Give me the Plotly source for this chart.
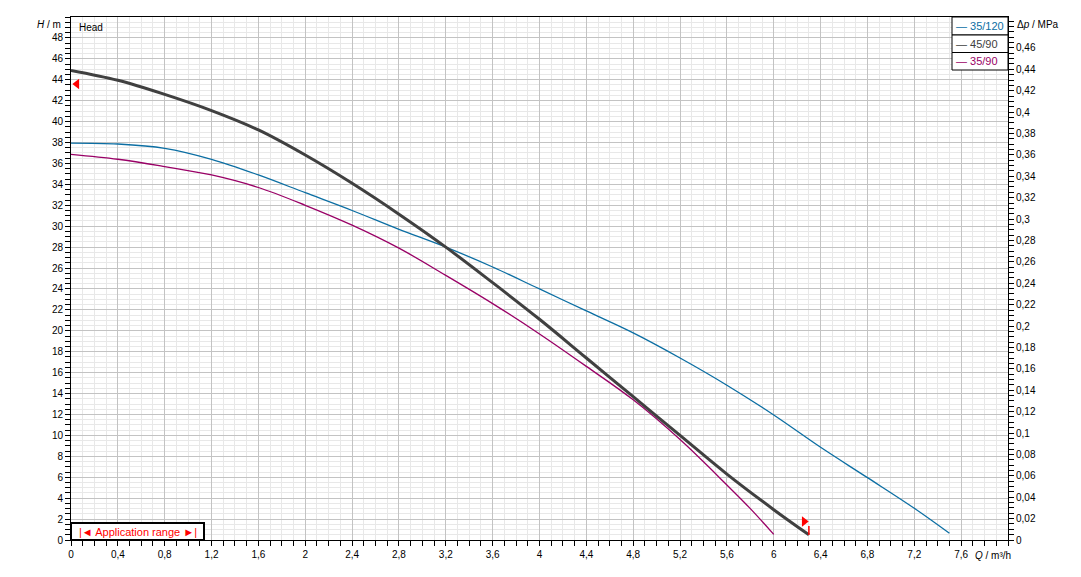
import plotly.graph_objects as go

# ---------------- data ----------------
q_45_90 = [0, 0.4, 0.8, 1.2, 1.6, 2.0, 2.4, 2.8, 3.2, 3.6, 4.0, 4.4, 4.8, 5.2, 5.6, 6.0, 6.3]
h_45_90 = [44.9, 43.95, 42.6, 41.05, 39.2, 36.8, 34.1, 31.15, 28.0, 24.6, 21.1, 17.4, 13.7, 10.0, 6.3, 2.9, 0.5]

q_35_120 = [0, 0.4, 0.8, 1.2, 1.6, 2.0, 2.4, 2.8, 3.2, 3.6, 4.0, 4.4, 4.8, 5.2, 5.6, 6.0, 6.4, 6.8, 7.2, 7.5]
h_35_120 = [37.95, 37.86, 37.45, 36.4, 34.9, 33.2, 31.5, 29.7, 28.0, 26.1, 24.0, 21.9, 19.8, 17.4, 14.8, 11.95, 8.86, 5.96, 3.03, 0.64]

q_35_90 = [0, 0.4, 0.8, 1.2, 1.6, 2.0, 2.4, 2.8, 3.2, 3.6, 4.0, 4.4, 4.8, 5.2, 5.6, 5.8, 6.0]
h_35_90 = [36.87, 36.4, 35.7, 34.9, 33.7, 32.0, 30.1, 27.9, 25.3, 22.6, 19.7, 16.6, 13.4, 9.6, 5.26, 3.0, 0.54]

series_names = ["35/120", "45/90", "35/90"]
series_colors = ["#0b6ea3", "#404040", "#990066"]

# application range markers
app_start_q = [0.05]
app_start_h = [43.6]
app_end_q = [6.26]
app_end_h = [1.77]
app_end_bar_q = [6.3, 6.3]
app_end_bar_h = [1.34, 0.48]

x_tickvals = [round(0.4 * i, 1) for i in range(20)]          # 0 .. 7.6
x_ticktext = [("%g" % v).replace(".", ",") for v in x_tickvals]
y_tickvals = list(range(0, 50, 2))                             # 0 .. 48
dp_tickvals = [round(0.02 * i, 2) for i in range(24)]          # 0 .. 0.46
dp_ticktext = [("%g" % v).replace(".", ",") for v in dp_tickvals]

X_MAX = 8.0
H_MAX = 50.0
DP_MAX = 0.4889

FONT = "Liberation Sans, Arial, sans-serif"
SMOOTH = 1.0

fig = go.Figure()

fig.add_trace(go.Scatter(x=q_35_120, y=h_35_120, mode="lines", name=series_names[0],
                         line=dict(color=series_colors[0], width=1.3, shape="spline", smoothing=SMOOTH)))
fig.add_trace(go.Scatter(x=q_35_90, y=h_35_90, mode="lines", name=series_names[2],
                         line=dict(color=series_colors[2], width=1.3, shape="spline", smoothing=SMOOTH)))
fig.add_trace(go.Scatter(x=q_45_90, y=h_45_90, mode="lines", name=series_names[1],
                         line=dict(color=series_colors[1], width=3, shape="spline", smoothing=SMOOTH)))

# application range markers
fig.add_trace(go.Scatter(x=app_start_q, y=app_start_h, mode="markers",
                         marker=dict(symbol="triangle-left", size=9, color="#ff0000"),
                         showlegend=False, hoverinfo="skip", cliponaxis=False))
fig.add_trace(go.Scatter(x=app_end_q, y=app_end_h, mode="markers",
                         marker=dict(symbol="triangle-right", size=9, color="#ff0000"),
                         showlegend=False, hoverinfo="skip", cliponaxis=False))
fig.add_trace(go.Scatter(x=app_end_bar_q, y=app_end_bar_h, mode="lines",
                         line=dict(color="#ff0000", width=1.5),
                         showlegend=False, hoverinfo="skip"))

# invisible trace for right axis
fig.add_trace(go.Scatter(x=[0], y=[0], yaxis="y2", mode="markers",
                         marker=dict(opacity=0), showlegend=False, hoverinfo="skip"))

axis_common = dict(
    showline=True, linecolor="black", linewidth=1,
    ticks="outside", ticklen=5, tickcolor="black", tickwidth=1,
    tickfont=dict(family=FONT, size=10, color="black"),
    zeroline=False,
)

# page body has an 8px margin -> figure is shifted by 8px; compensate
OFF = 8
PL, PR, PT, PB = 71, 1008, 17, 540   # target plot area in screen pixels
FIG_W, FIG_H = 1081 - 2 * OFF, 577 - 2 * OFF

fig.update_layout(
    width=FIG_W, height=FIG_H,
    margin=dict(l=PL - OFF, r=FIG_W - (PR - OFF), t=PT - OFF, b=FIG_H - (PB - OFF), autoexpand=False),
    paper_bgcolor="white", plot_bgcolor="white",
    showlegend=False,
    font=dict(family=FONT, size=10, color="black"),
    xaxis=dict(
        range=[0, X_MAX], tickmode="array", tickvals=x_tickvals, ticktext=x_ticktext,
        showgrid=True, gridcolor="#c3c3c3", gridwidth=1, mirror=True,
        minor=dict(dtick=0.1, tick0=0, ticks="outside", ticklen=5, tickcolor="black",
                   showgrid=True, gridcolor="#e8e8e8", gridwidth=1),
        **axis_common,
    ),
    yaxis=dict(
        range=[0, H_MAX], tickmode="array", tickvals=y_tickvals,
        showgrid=True, gridcolor="#c3c3c3", gridwidth=1, mirror=True,
        minor=dict(dtick=0.5, tick0=0, ticks="outside", ticklen=5, tickcolor="black",
                   showgrid=True, gridcolor="#e8e8e8", gridwidth=1),
        **axis_common,
    ),
    yaxis2=dict(
        range=[0, DP_MAX], overlaying="y", side="right", anchor="x",
        tickmode="array", tickvals=dp_tickvals, ticktext=dp_ticktext,
        showgrid=False,
        minor=dict(dtick=0.005, tick0=0, ticks="outside", ticklen=5, tickcolor="black",
                   showgrid=False),
        **axis_common,
    ),
)

# ---------- helper screen pixel -> paper ----------
def px(xp):
    return (xp - PL) / (PR - PL)
def py(yp):
    return (PB - yp) / (PB - PT)

annotations = []
shapes = []

# axis titles
annotations.append(dict(text="<i>H</i> / m", x=px(63), y=py(25), xref="paper", yref="paper",
                        xanchor="right", yanchor="middle", showarrow=False,
                        font=dict(family=FONT, size=10, color="black")))
annotations.append(dict(text="Head", x=px(77), y=py(27), xref="paper", yref="paper",
                        xanchor="left", yanchor="middle", showarrow=False,
                        font=dict(family=FONT, size=10, color="black")))
annotations.append(dict(text="Δ<i>p</i> / MPa", x=px(1015), y=py(25), xref="paper", yref="paper",
                        xanchor="left", yanchor="middle", showarrow=False,
                        font=dict(family=FONT, size=10, color="black")))
annotations.append(dict(text="<i>Q</i> / m³/h", x=px(973), y=py(555), xref="paper", yref="paper",
                        xanchor="left", yanchor="middle", showarrow=False,
                        font=dict(family=FONT, size=10, color="black")))

# legend boxes
row_edges = [17, 35, 52.5, 70]
for i, (name, col) in enumerate(zip(series_names, series_colors)):
    shapes.append(dict(type="rect", xref="paper", yref="paper",
                       x0=px(952), x1=px(1008), y0=py(row_edges[i + 1]), y1=py(row_edges[i]),
                       line=dict(color="black", width=1), fillcolor="white", layer="above"))
    annotations.append(dict(text="— " + name, x=px(954), y=py((row_edges[i] + row_edges[i + 1]) / 2),
                            xref="paper", yref="paper", xanchor="left", yanchor="middle",
                            showarrow=False, font=dict(family=FONT, size=11, color=col)))

# application range box
shapes.append(dict(type="rect", xref="paper", yref="paper",
                   x0=px(71), x1=px(204), y0=py(540), y1=py(523),
                   line=dict(color="black", width=2), fillcolor="white", layer="above"))
annotations.append(dict(text="|◄ Application range ►|", x=px(137.5), y=py(531.5),
                        xref="paper", yref="paper", xanchor="center", yanchor="middle",
                        showarrow=False, font=dict(family=FONT, size=11, color="#ff0000")))

fig.update_layout(annotations=annotations, shapes=shapes)

fig.write_html("out.html")
